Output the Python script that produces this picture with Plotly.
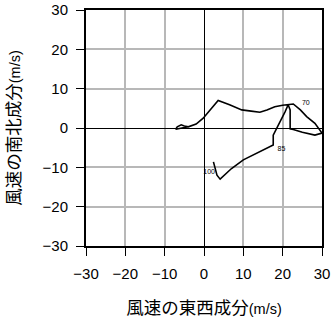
import plotly.graph_objects as go

# hodograph: east-west (u) and north-south (v) wind components, m/s
u = [-4.0, -7.2, -6.8, -5.8, -5.0, -4.0, -2.0, -0.2, 1.5, 3.6, 6.5, 9.6, 12.0, 14.2,
     16.0, 18.0, 20.0, 21.4, 22.7, 24.5, 26.1, 28.2, 29.5, 30.0, 28.2, 25.0, 22.7,
     21.9, 21.9, 21.4, 20.6, 19.5, 18.5, 17.6, 17.6, 16.8, 13.5, 10.0, 7.0, 4.1,
     3.3, 2.8, 2.4]
v = [0.3, -0.3, 0.3, 0.8, 0.5, 0.3, 1.0, 2.5, 4.5, 7.0, 5.9, 4.6, 4.3, 4.0,
     4.6, 5.4, 5.8, 6.0, 6.1, 4.6, 2.9, 1.2, -0.4, -1.3, -1.8, -1.1, -0.4,
     -0.2, 4.6, 5.9, 4.1, 2.0, -0.1, -1.8, -4.3, -4.7, -6.4, -8.1, -10.3, -13.0,
     -12.0, -10.3, -8.6]

label_text = ["70", "85", "100"]
label_u = [25.9, 19.7, 1.3]
label_v = [6.2, -5.4, -11.2]

tickvals = [-30, -20, -10, 0, 10, 20, 30]

font_fam = "Liberation Sans, Arial, Noto Sans CJK JP"
cjk = "Noto Sans CJK JP"

fig = go.Figure()
fig.add_trace(go.Scatter(x=u, y=v, mode="lines",
                         line=dict(color="black", width=1.6),
                         hoverinfo="skip", showlegend=False))
fig.add_trace(go.Scatter(x=label_u, y=label_v, mode="text", text=label_text,
                         textfont=dict(size=7, color="#000000", family=font_fam),
                         hoverinfo="skip", showlegend=False))

axis_common = dict(range=[-30, 30], tickvals=tickvals, ticks="outside", ticklen=8,
                   tickwidth=1, tickcolor="black", showline=True, linecolor="black",
                   linewidth=2, mirror=True, showgrid=True, gridcolor="#b8b8b8",
                   gridwidth=2, zeroline=True, zerolinecolor="black", zerolinewidth=1,
                   tickfont=dict(size=15, color="black", family=font_fam),
                   ticklabelstandoff=5, automargin=False, fixedrange=True)

fig.update_layout(
    width=332, height=319,
    margin=dict(l=86, r=10, t=10, b=73),
    paper_bgcolor="white", plot_bgcolor="white",
    xaxis=dict(**axis_common,
               title=dict(text="<span style='font-family:%s;font-size:17.5px'>風速の東西成分</span>(m/s)" % cjk,
                          font=dict(size=14.5, color="black", family=font_fam), standoff=25)),
    yaxis=dict(**axis_common,
               title=dict(text="<span style='font-family:%s;font-size:17.5px'>風速の南北成分</span>(m/s)" % cjk,
                          font=dict(size=14.5, color="black", family=font_fam), standoff=18)),
)

fig.write_html("out.html")
